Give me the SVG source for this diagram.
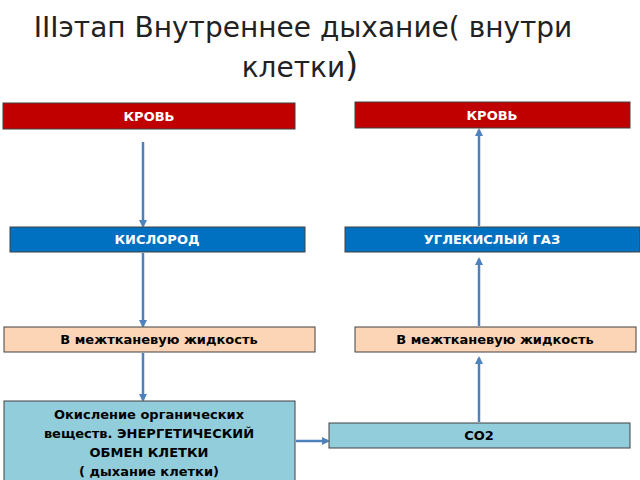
<svg xmlns="http://www.w3.org/2000/svg" width="640" height="480" viewBox="0 0 640 480">
<style>
.t{font-family:"DejaVu Sans",sans-serif;font-weight:bold;font-size:13px;text-anchor:middle}
.w{fill:#fff}.k{fill:#000}
.red{fill:#c00000;stroke:#404040;stroke-width:1}
.blue{fill:#0070c0;stroke:#404040;stroke-width:1}
.peach{fill:#fbd5b5;stroke:#404040;stroke-width:1}
.cyan{fill:#92cddc;stroke:#404040;stroke-width:1}
.c{stroke:#4f81bd;stroke-width:2.5;fill:none;marker-end:url(#a)}
</style>
<defs><marker id="a" markerWidth="8" markerHeight="8" refX="6" refY="4" orient="auto" markerUnits="userSpaceOnUse"><path d="M0,0 L8,4 L0,8 z" fill="#4f81bd"/></marker></defs>
<rect width="640" height="480" fill="#fff"/>
<text x="303" y="37" font-family="DejaVu Sans,sans-serif" font-size="28" text-anchor="middle" fill="#222">IIIэтап Внутреннее дыхание( внутри</text>
<text x="300" y="77" font-family="DejaVu Sans,sans-serif" font-size="28" text-anchor="middle" fill="#222">клетки<tspan font-size="34">)</tspan></text>
<g id="connectors">
<line class="c" x1="143" y1="142" x2="143" y2="226"/>
<line class="c" x1="143" y1="253" x2="143" y2="326"/>
<line class="c" x1="143" y1="353" x2="143" y2="400"/>
<line class="c" x1="479" y1="226" x2="479" y2="130"/>
<line class="c" x1="479" y1="326" x2="479" y2="259"/>
<line class="c" x1="479" y1="422" x2="479" y2="358"/>
<line class="c" x1="296" y1="441" x2="328" y2="441"/>
</g>
<g id="n1"><rect class="red" x="3" y="103" width="292" height="26"/><text class="t w" x="149" y="121">КРОВЬ</text></g>
<g id="n2"><rect class="red" x="355" y="102" width="275" height="26"/><text class="t w" x="492" y="120">КРОВЬ</text></g>
<g id="n3"><rect class="blue" x="10" y="227" width="295" height="25"/><text class="t w" x="157" y="244">КИСЛОРОД</text></g>
<g id="n4"><rect class="blue" x="345" y="227" width="295" height="25"/><text class="t w" x="492" y="244">УГЛЕКИСЛЫЙ ГАЗ</text></g>
<g id="n5"><rect class="peach" x="4" y="327" width="311" height="25"/><text class="t k" x="159" y="344">В межтканевую жидкость</text></g>
<g id="n6"><rect class="peach" x="355" y="327" width="281" height="25"/><text class="t k" x="495" y="344">В межтканевую жидкость</text></g>
<g id="n7"><rect class="cyan" x="4" y="401" width="291" height="85"/>
<text class="t k" x="149" y="419">Окисление органических</text>
<text class="t k" x="149" y="438">веществ. ЭНЕРГЕТИЧЕСКИЙ</text>
<text class="t k" x="149" y="457">ОБМЕН КЛЕТКИ</text>
<text class="t k" x="149" y="476">( дыхание клетки)</text></g>
<g id="n8"><rect class="cyan" x="329" y="423" width="301" height="25"/><text class="t k" x="479" y="440">CO2</text></g>
</svg>
